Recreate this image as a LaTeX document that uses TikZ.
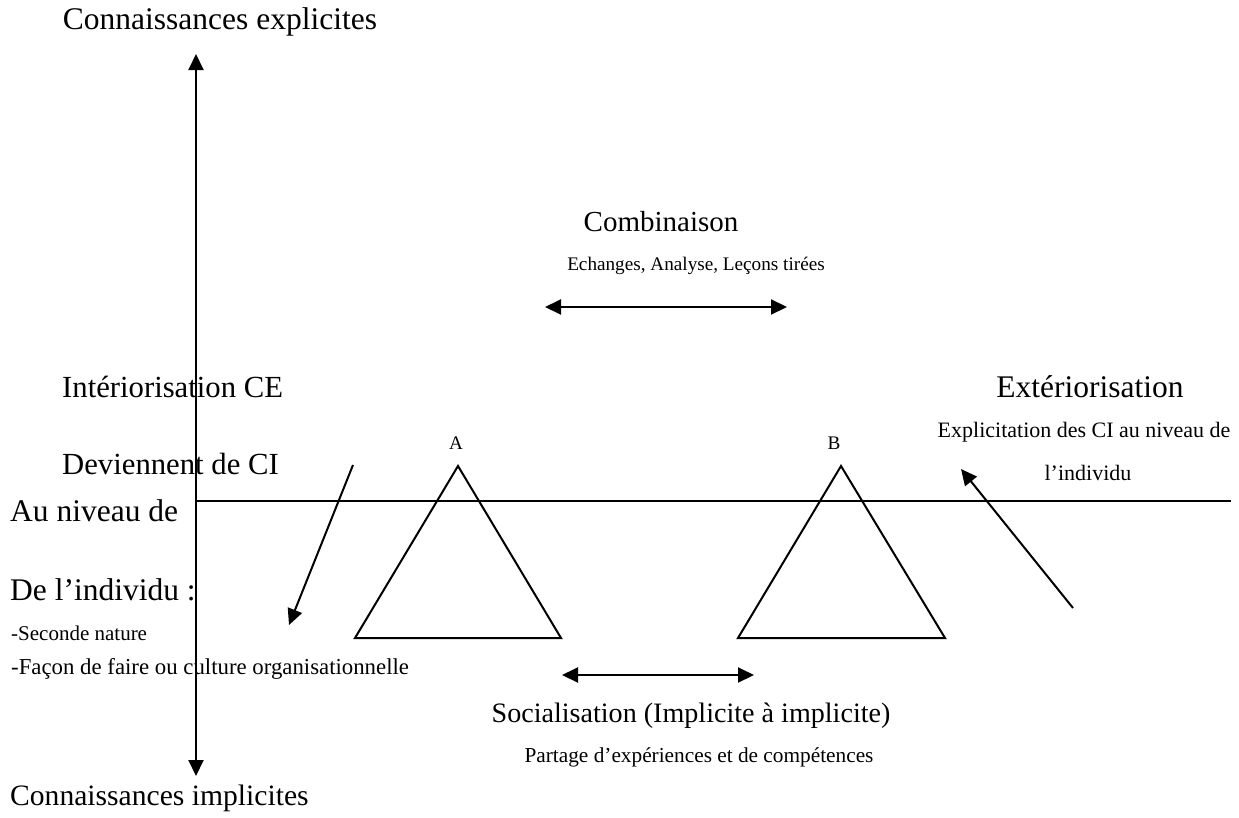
\documentclass[tikz,border=0pt]{standalone}
\usepackage{fontspec}
\setmainfont{Liberation Serif}
\usetikzlibrary{positioning, arrows.meta}

\begin{document}
\begin{tikzpicture}[
    x=1pt, y=-1pt,
    >={Triangle[length=16pt, width=15pt]},
    txt/.style={font=\fontsize{#1}{#1}\selectfont, inner sep=0pt},
    lefttxt/.style={txt=#1, anchor=west},
    line/.style={line width=2pt},
    arrow/.style={->, line width=2pt},
    twoway/.style={<->, line width=2pt},
    tri/.style={draw, line width=2pt},
]
\useasboundingbox (0,0) rectangle (1239,817);

% ============================================================
% Axes
% ============================================================
\node[txt=31.5] (expl) at (220,22) {Connaissances explicites};
\node[lefttxt=29.6] (impl) at (10,798) {Connaissances implicites};
\coordinate (axis-top) at (196,54);
\coordinate (axis-bot) at (196,776);
\draw[twoway] (axis-bot) -- (axis-top);

\coordinate (hline-l) at (196,501);
\coordinate (hline-r) at (1231,501);
\draw[line] (hline-l) -- (hline-r);

% ============================================================
% Combinaison (top)
% ============================================================
\node[txt=29] (comb) at (661,222) {Combinaison};
\node[txt=19.2] (comb-sub) at (696,266) {Echanges, Analyse, Leçons tirées};
\coordinate (comb-l) at (545,307);
\coordinate (comb-r) at (787,307);
\draw[twoway] (comb-l) -- (comb-r);

% ============================================================
% Interiorisation (left)
% ============================================================
\node[lefttxt=30.7] (int1) at (62,387) {Intériorisation CE};
\node[lefttxt=30.7] (int2) at (62,464) {Deviennent de CI};
\node[lefttxt=31.5] (int3) at (10,511) {Au niveau de};
\node[lefttxt=31.5] (int4) at (10,590) {De l’individu :};
\node[lefttxt=21] (int5) at (11,633) {-Seconde nature};
\node[lefttxt=22.8] (int6) at (11,669) {-Façon de faire ou culture organisationnelle};
\coordinate (int-from) at (353,465);
\coordinate (int-to) at (289,625);
\draw[arrow] (int-from) -- (int-to);

% ============================================================
% Exteriorisation (right)
% ============================================================
\node[txt=31.5] (ext) at (1090,387) {Extériorisation};
\node[txt=22] (ext-sub1) at (1084,432) {Explicitation des CI au niveau de};
\node[txt=22] (ext-sub2) at (1088,473) {l’individu};
\coordinate (ext-from) at (1073,608);
\coordinate (ext-to) at (961,469);
\draw[arrow] (ext-from) -- (ext-to);

% ============================================================
% Triangles A and B
% ============================================================
\node[txt=19.2] (lab-a) at (456,443) {A};
\node[txt=19.2] (lab-b) at (834,443) {B};
\draw[tri] (458,466) -- (561,638) -- (355,638) -- cycle;
\draw[tri] (841,466) -- (945,638) -- (738,638) -- cycle;

% ============================================================
% Socialisation (bottom)
% ============================================================
\coordinate (soc-l) at (562,675);
\coordinate (soc-r) at (754,675);
\draw[twoway] (soc-l) -- (soc-r);
\node[txt=28.1] (soc) at (691,716) {Socialisation (Implicite à implicite)};
\node[txt=21.3] (soc-sub) at (699,757) {Partage d’expériences et de compétences};

\end{tikzpicture}
\end{document}
